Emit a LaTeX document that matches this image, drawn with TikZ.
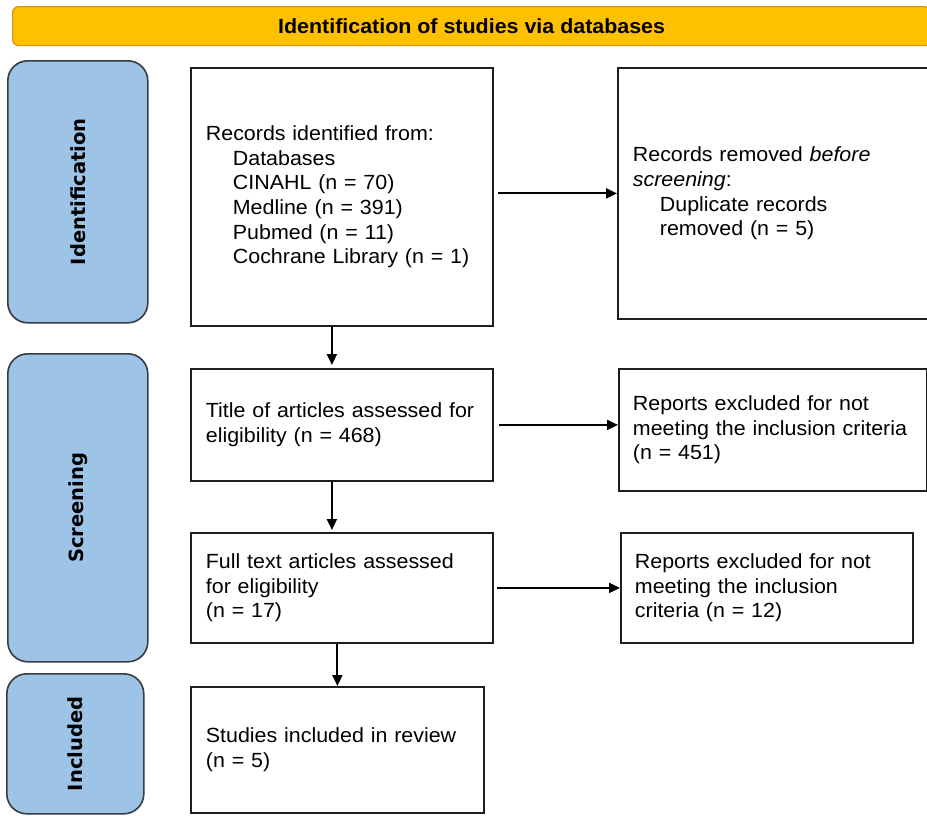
\documentclass[tikz,border=0pt]{standalone}
\usepackage{fontspec}
\setmainfont{Liberation Sans}[FakeStretch=1.045]
\newfontfamily\sidefont{DejaVu Sans}
\usetikzlibrary{arrows.meta,calc}
\definecolor{hdrfill}{RGB}{255,192,0}
\definecolor{hdrdraw}{RGB}{205,150,25}
\definecolor{sidefill}{RGB}{157,195,230}
\definecolor{sidedraw}{RGB}{55,60,65}
\definecolor{boxdraw}{RGB}{30,30,30}
\begin{document}
\begin{tikzpicture}[x=1pt,y=-1pt,
  box/.style={draw=boxdraw, line width=1.8pt, anchor=north west, align=left,
    inner xsep=15pt, inner ysep=0pt, font=\fontsize{20.5}{24.6}\selectfont},
  side/.style={draw=sidedraw, fill=sidefill, line width=1.6pt, rounded corners=20pt,
    anchor=north west, inner sep=0pt},
  sidelabel/.style={rotate=90, inner sep=0pt, font=\sidefont\bfseries\fontsize{19.5}{22}\selectfont},
  hdr/.style={draw=hdrdraw, fill=hdrfill, line width=1.2pt, rounded corners=6pt,
    anchor=north west, inner sep=0pt, font=\bfseries\fontsize{20.5}{24}\selectfont},
  arr/.style={draw=black, line width=2pt, -{Triangle[length=11pt,width=10pt]}}
]
\useasboundingbox (0,0) rectangle (927,815);
\clip (0,0) rectangle (927,815);

% header
\node[hdr, minimum width=918pt, minimum height=39pt] (hdr) at (12,6) {Identification of studies via databases};

% side phase boxes
\node[side, minimum width=140pt, minimum height=262pt] (idside) at (7,60) {};
\node[sidelabel] (idlab) at (idside.center) {Identification};
\node[side, minimum width=140pt, minimum height=308pt] (scrside) at (7,353) {};
\node[sidelabel] (scrlab) at (scrside.center) {Screening};
\node[side, minimum width=137pt, minimum height=140pt] (incside) at (6,673) {};
\node[sidelabel] (inclab) at (incside.center) {Included};

% main boxes
\node[box, minimum width=302pt, minimum height=258pt, text width=272pt] (rec) at (190,67)
  {Records identified from:\\
   \hspace*{27pt}Databases\\
   \hspace*{27pt}CINAHL (n = 70)\\
   \hspace*{27pt}Medline (n = 391)\\
   \hspace*{27pt}Pubmed (n = 11)\\
   \hspace*{27pt}Cochrane Library (n = 1)};
\node[box, minimum width=330pt, minimum height=251pt, text width=300pt] (rem) at (617,67)
  {Records removed \textit{before}\\
   \textit{screening}:\\
   \hspace*{27pt}Duplicate records\\
   \hspace*{27pt}removed (n = 5)};
\node[box, minimum width=302pt, minimum height=112pt, text width=280pt, inner xsep=11pt] (title) at (190,368)
  {\hspace*{4pt}Title of articles assessed for\\
   \hspace*{4pt}eligibility (n = 468)};
\node[box, minimum width=308pt, minimum height=122pt, text width=282pt, inner xsep=13pt] (rep1) at (618,368)
  {\hspace*{1pt}Reports excluded for not\\
   \hspace*{1pt}meeting the inclusion criteria\\
   \hspace*{1pt}(n = 451)};
\node[box, minimum width=302pt, minimum height=110pt, text width=272pt] (full) at (190,532)
  {Full text articles assessed\\
   for eligibility\\
   (n = 17)};
\node[box, minimum width=292pt, minimum height=110pt, text width=264pt, inner xsep=14pt] (rep2) at (620,532)
  {Reports excluded for not\\
   meeting the inclusion\\
   criteria (n = 12)};
\node[box, minimum width=293pt, minimum height=126pt, text width=263pt] (stud) at (190,686)
  {Studies included in review\\
   (n = 5)};

% connectors
\draw[arr] ($(rec.east |- rem.west)+(4,0)$) -- (rem.west);
\draw[arr] ($(title.east)+(5,0)$) -- (title.east -| rep1.west);
\draw[arr] ($(full.east)+(3,0)$) -- (full.east -| rep2.west);
\draw[arr] ($(rec.south)+(-10,0)$) -- ($(title.north)+(-10,-3)$);
\draw[arr] ($(title.south)+(-10,0)$) -- ($(full.north)+(-10,-2)$);
\draw[arr] (full.south -| stud.north) -- (stud.north);
\end{tikzpicture}
\end{document}
